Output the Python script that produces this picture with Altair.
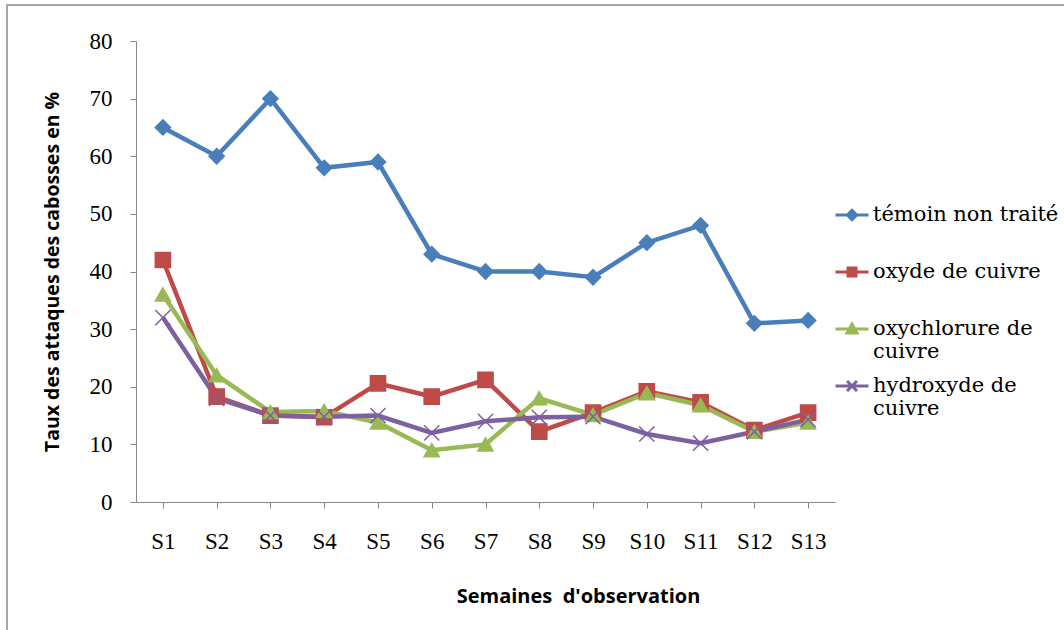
import altair as alt
import pandas as pd

# Weekly pod-attack rates (%) per treatment
weeks = ["S1", "S2", "S3", "S4", "S5", "S6", "S7", "S8", "S9", "S10", "S11", "S12", "S13"]
series_names = ["témoin non traité", "oxyde de cuivre", "oxychlorure de cuivre", "hydroxyde de cuivre"]
temoin = [65, 60, 70, 58, 59, 43, 40, 40, 39, 45, 48, 31, 31.5]
oxyde = [42, 18.3, 15, 14.7, 20.6, 18.3, 21.2, 12.2, 15.5, 19.2, 17.3, 12.5, 15.5]
oxychlorure = [36, 22, 15.6, 15.8, 13.8, 9, 10, 18, 15.1, 18.9, 16.8, 12.2, 13.8]
hydroxyde = [32, 18, 15, 14.8, 15, 12, 14, 14.7, 14.8, 11.8, 10.2, 12.2, 14.3]

colors = ["#4A7EBB", "#BE4B48", "#98B954", "#7D60A0"]
marker_shapes = ["diamond", "square", "triangle-up", "M-1,-1L1,1M-1,1L1,-1"]
# legend keys: a short line segment with the marker in its middle
legend_shapes = [
    "M-1,0H1M0,-0.28L0.28,0L0,0.28L-0.28,0Z",
    "M-1,0H1M-0.24,-0.24H0.24V0.24H-0.24Z",
    "M-1,0H1M0,-0.3L0.3,0.24H-0.3Z",
    "M-1,0H1M-0.3,-0.3L0.3,0.3M-0.3,0.3L0.3,-0.3",
]

rows = []
for name, vals in zip(series_names, [temoin, oxyde, oxychlorure, hydroxyde]):
    for w, v in zip(weeks, vals):
        rows.append({"semaine": w, "serie": name, "taux": v})
df = pd.DataFrame(rows)

x_enc = alt.X(
    "semaine:N",
    sort=weeks,
    scale=alt.Scale(type="point", padding=0.5),
    axis=alt.Axis(
        title="Semaines\u00a0\u00a0d'observation",
        labelAngle=0,
        tickBand="extent",
        labelFont="Liberation Serif",
        labelFontSize=23,
        labelColor="#000000",
        labelPadding=22,
        tickSize=6,
        tickColor="#888888",
        domainColor="#888888",
        titleFont="Open Sans",
        titleFontWeight="bold",
        titleFontSize=20,
        titleColor="#000000",
        titlePadding=33,
        titleX=442,
    ),
)
y_enc = alt.Y(
    "taux:Q",
    scale=alt.Scale(domain=[0, 80]),
    axis=alt.Axis(
        title="Taux des attaques des cabosses en %",
        values=list(range(0, 81, 10)),
        grid=False,
        labelFont="Liberation Serif",
        labelFontSize=23,
        labelColor="#000000",
        labelPadding=18,
        tickSize=6,
        tickColor="#888888",
        domainColor="#888888",
        titleFont="Open Sans",
        titleFontWeight="bold",
        titleFontSize=19.5,
        titleColor="#000000",
        titlePadding=27,
    ),
)

color_scale = alt.Scale(domain=series_names, range=colors)

base = alt.Chart(df)

lines = base.mark_line(strokeWidth=4.5).encode(
    x=x_enc,
    y=y_enc,
    color=alt.Color("serie:N", scale=color_scale, legend=None),
    detail="serie:N",
)

points = base.mark_point(filled=True, opacity=1, size=230, strokeWidth=1.5).encode(
    x=x_enc,
    y=y_enc,
    color=alt.Color("serie:N", scale=color_scale, legend=None),
    stroke=alt.Stroke("serie:N", scale=color_scale, legend=None),
    shape=alt.Shape("serie:N", scale=alt.Scale(domain=series_names, range=marker_shapes), legend=None),
)

legend_layer = base.transform_filter("false").mark_point(filled=True, opacity=1).encode(
    x=x_enc,
    y=y_enc,
    color=alt.Color(
        "serie:N",
        scale=color_scale,
        legend=alt.Legend(
            title=None,
            orient="none",
            legendX=698,
            legendY=156,
            symbolSize=1089,
            symbolStrokeWidth=3,
            labelFont="DejaVu Serif",
            labelFontSize=21,
            labelColor="#000000",
            labelLimit=400,
            labelOffset=3,
            labelBaseline="middle",
            rowPadding=6,
            gridAlign="all",
            labelExpr="length(datum.label) > 17 ? [slice(datum.label, 0, lastindexof(datum.label, ' ')), slice(datum.label, lastindexof(datum.label, ' ') + 1)] : datum.label",
        ),
    ),
    stroke=alt.Stroke("serie:N", scale=color_scale),
    shape=alt.Shape("serie:N", scale=alt.Scale(domain=series_names, range=legend_shapes)),
)

# thin grey frame around the whole figure
frame = alt.Chart(pd.DataFrame({"f": [0]})).mark_rect(
    fill=None, stroke="#A6A6A6", strokeWidth=2
).encode(
    x=alt.value(-129), x2=alt.value(940), y=alt.value(-36), y2=alt.value(600)
)

chart = (
    alt.layer(frame, lines, points, legend_layer)
    .resolve_scale(color="independent", shape="independent", stroke="independent")
    .resolve_legend(color="independent", shape="independent", stroke="independent")
    .properties(
        width=699,
        height=461,
        padding={"left": 136, "top": 41, "right": 229, "bottom": 128},
        autosize=alt.AutoSizeParams(type="none"),
        background="#FFFFFF",
    )
    .configure_view(stroke=None)
)

chart.save("out.html", embed_options={"renderer": "svg", "actions": False})
